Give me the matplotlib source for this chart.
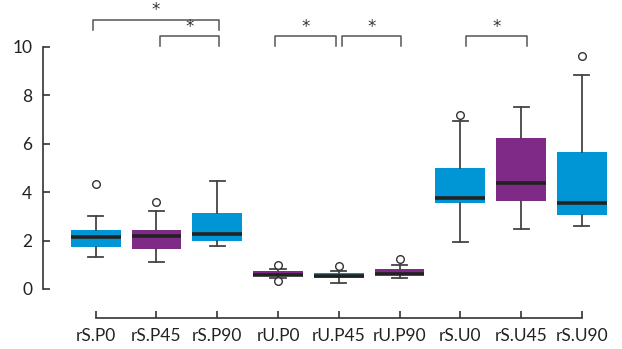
import matplotlib.pyplot as plt

plt.rcParams['font.family'] = ['Lato', 'DejaVu Sans']

# box statistics
labels = ["rS.P0", "rS.P45", "rS.P90", "rU.P0", "rU.P45", "rU.P90", "rS.U0", "rS.U45", "rS.U90"]
q1 = [1.75, 1.66, 1.99, 0.54, 0.47, 0.56, 3.56, 3.64, 3.07]
med = [2.13, 2.19, 2.27, 0.59, 0.52, 0.63, 3.77, 4.39, 3.55]
q3 = [2.43, 2.43, 3.14, 0.74, 0.66, 0.83, 4.99, 6.23, 5.65]
whislo = [1.32, 1.11, 1.77, 0.44, 0.25, 0.44, 1.95, 2.49, 2.60]
whishi = [3.00, 3.22, 4.46, 0.81, 0.74, 0.98, 6.93, 7.50, 8.84]
fliers = [[4.32], [3.58], [], [1.00, 0.32], [0.96], [1.25], [7.17], [], [9.63]]

# significance brackets: (left index, right index, height)
brackets = [(0, 2, 11.11), (1, 2, 10.44), (3, 4, 10.44), (4, 5, 10.44), (6, 7, 10.44)]

blue = "#0096d6"
purple = "#7f2a86"
colors = [blue, purple] * 5

fig = plt.figure(figsize=(6.22, 3.49), dpi=100)
ax = fig.add_axes([43.3 / 622, (349 - 318.3) / 349, (622 - 43.3) / 622, 318.3 / 349])

stats = []
for i in range(len(labels)):
    stats.append(dict(q1=q1[i], med=med[i], q3=q3[i], whislo=whislo[i], whishi=whishi[i],
                      fliers=fliers[i], label=labels[i]))

bp = ax.bxp(stats, positions=range(len(labels)), widths=0.82, patch_artist=True,
            showfliers=True,
            boxprops=dict(linewidth=0),
            medianprops=dict(color="#222222", linewidth=2.6, solid_capstyle="butt"),
            whiskerprops=dict(color="#444444", linewidth=1.3),
            capprops=dict(color="#444444", linewidth=1.3),
            flierprops=dict(marker="o", markersize=5.5, markerfacecolor="white",
                            markeredgecolor="#333333", markeredgewidth=1.0))
for patch, c in zip(bp["boxes"], colors):
    patch.set_facecolor(c)
    patch.set_edgecolor(c)
for cap in bp["caps"]:
    x0, x1 = cap.get_xdata()
    xc = (x0 + x1) / 2
    cap.set_xdata([xc - 0.125, xc + 0.125])

# brackets with stars
for a, b, h in brackets:
    xa = a + 0.05 if a in (1, 4) else a - 0.05
    xb = b - 0.05 if b == 4 else b + 0.03
    if a == 6:
        xa, xb = a + 0.1, b + 0.1
    ax.plot([xa, xa, xb, xb], [h - 0.42, h, h, h - 0.42], color="#555555", linewidth=1.1,
            clip_on=False)
    ax.text((xa + xb) / 2, h + 0.02, "*", ha="center", va="bottom", fontsize=12,
            color="#333333", family="DejaVu Sans")

ax.set_xlim(-0.862, 8.66)
ax.set_ylim(-1.21, 11.93)
ax.set_yticks([0, 2, 4, 6, 8, 10])
ax.set_xticks(range(len(labels)))
ax.set_xticklabels(labels)

for s in ["top", "right"]:
    ax.spines[s].set_visible(False)
ax.spines["left"].set_bounds(0, 10)
ax.spines["bottom"].set_bounds(0, 8)
for s in ["left", "bottom"]:
    ax.spines[s].set_color("#333333")
    ax.spines[s].set_linewidth(1.2)

ax.tick_params(axis="both", direction="in", length=5, width=1.2, color="#333333",
               labelsize=12.5, labelcolor="#222222")
ax.tick_params(axis="y", pad=8)
ax.tick_params(axis="x", pad=7)

fig.savefig("out.png", dpi=100)
